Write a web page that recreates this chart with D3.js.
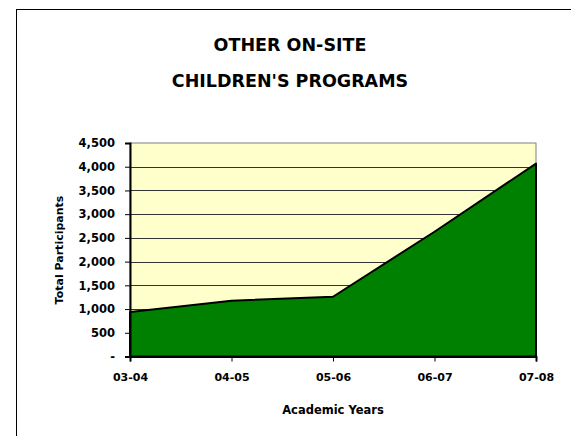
<!doctype html>
<html>
<head>
<script src="https://d3js.org/d3.v7.min.js"></script>
<style>
body { margin: 0; background: #fff; }
svg text { font-family: "DejaVu Sans", sans-serif; font-weight: bold; fill: #000; }
</style>
</head>
<body>
<svg id="chart" width="571" height="436"></svg>
<script>
var years = ["03-04", "04-05", "05-06", "06-07", "07-08"];
var participants = [940, 1175, 1260, 2630, 4065];
var yTicks = [0, 500, 1000, 1500, 2000, 2500, 3000, 3500, 4000, 4500];

var svg = d3.select("#chart");
var plotLeft = 130, plotRight = 536, plotTop = 143, plotBottom = 356.5;

// outer frame
svg.append("rect")
  .attr("x", 16.5).attr("y", 9.5)
  .attr("width", 700).attr("height", 600)
  .style("fill", "none").style("stroke", "#000");

var x = d3.scalePoint().domain(years).range([plotLeft, plotRight]);
var y = d3.scaleLinear().domain([0, 4500]).range([plotBottom, plotTop]);

// plot background
svg.append("rect")
  .attr("x", plotLeft).attr("y", plotTop)
  .attr("width", plotRight - plotLeft).attr("height", plotBottom - plotTop)
  .style("fill", "#ffffcc")
  .style("stroke", "#808080");

// gridlines
svg.append("g").selectAll("line")
  .data(yTicks.filter(function(d) { return d > 0 && d < 4500; }))
  .enter().append("line")
  .attr("x1", plotLeft).attr("x2", plotRight)
  .attr("y1", function(d) { return Math.round(y(d)) + 0.5; })
  .attr("y2", function(d) { return Math.round(y(d)) + 0.5; })
  .style("stroke", "#333").style("stroke-width", 1);

// area
var area = d3.area()
  .x(function(d, i) { return x(years[i]); })
  .y0(plotBottom)
  .y1(function(d) { return y(d); });

svg.append("path")
  .datum(participants)
  .attr("d", area)
  .style("fill", "#008000")
  .style("stroke", "#000")
  .style("stroke-width", 2)
  .style("stroke-linejoin", "round");

// axes
var yAxis = svg.append("g")
  .attr("transform", "translate(" + plotLeft + ",0)")
  .call(d3.axisLeft(y).tickValues(yTicks).tickSize(5).tickPadding(10)
    .tickFormat(function(d) { return d === 0 ? "-" : d3.format(",")(d); }));
yAxis.select(".domain").style("stroke", "#000").style("stroke-width", 2);
yAxis.selectAll("text").style("font-size", "11.5px").style("font-family", "DejaVu Sans");

var xAxis = svg.append("g")
  .attr("transform", "translate(0," + plotBottom + ")")
  .call(d3.axisBottom(x).tickSize(5).tickPadding(12));
xAxis.select(".domain").style("stroke", "#000").style("stroke-width", 2);
xAxis.selectAll("text").style("font-size", "11px").style("font-family", "DejaVu Sans");

// titles
svg.append("text")
  .attr("x", 290).attr("y", 51)
  .attr("text-anchor", "middle")
  .style("font-size", "17.5px")
  .text("OTHER ON-SITE");
svg.append("text")
  .attr("x", 290).attr("y", 87)
  .attr("text-anchor", "middle")
  .style("font-size", "17.5px")
  .text("CHILDREN'S PROGRAMS");

svg.append("text")
  .attr("x", 333).attr("y", 414)
  .attr("text-anchor", "middle")
  .style("font-size", "11.5px")
  .text("Academic Years");

svg.append("text")
  .attr("transform", "translate(63,250) rotate(-90)")
  .attr("text-anchor", "middle")
  .style("font-size", "11px")
  .text("Total Participants");
</script>
</body>
</html>
